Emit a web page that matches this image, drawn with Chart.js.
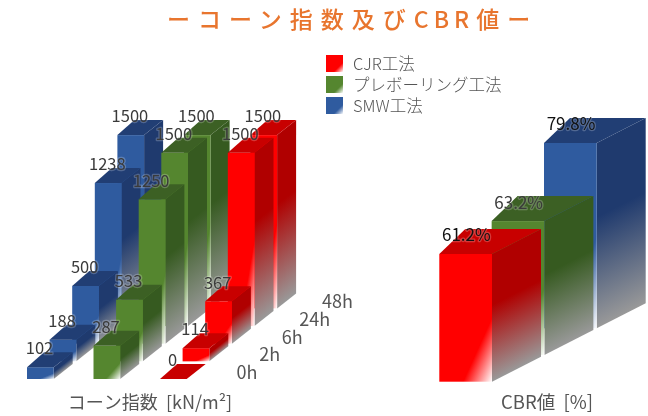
<!DOCTYPE html>
<html lang="ja">
<head>
<meta charset="utf-8">
<script src="https://cdn.jsdelivr.net/npm/chart.js@4"></script>
<style>
  html, body { margin: 0; padding: 0; background: #fff; }
  #page { position: relative; width: 648px; height: 416px; overflow: hidden; filter: blur(0.35px);
    font-family: "Noto Sans CJK JP", "Noto Sans", sans-serif; color: #555; }
  canvas { position: absolute; left: 0; top: 0; }
  #title { position: absolute; left: 167px; top: 1px; white-space: nowrap; font-size: 23px;
    line-height: 34px; letter-spacing: 8px; font-weight: 500; color: #e8752e; }
  #title span { letter-spacing: 5px; margin-right: 2px; }
  #legend { position: absolute; left: 326px; top: 55px; }
  #legend div { position: relative; height: 21px; line-height: 17px; font-size: 16.5px; font-weight: 300; padding-left: 27px; white-space: nowrap; }
  #legend i { position: absolute; left: 0; top: 0; width: 17px; height: 17px; }
</style>
</head>
<body>
<div id="page">
  <canvas id="cone" width="648" height="416"></canvas>
  <canvas id="cbr" width="648" height="416"></canvas>
  <div id="title">ーコーン指数及び<span>CBR</span>値ー</div>
  <div id="legend"></div>
</div>
<script>
const times = ["0h", "2h", "6h", "24h", "48h"];
const methods = ["SMW工法", "プレボーリング工法", "CJR工法"];
const smwCone = [102, 188, 500, 1238, 1500];
const preCone = [287, 533, 1250, 1500, 1500];
const cjrCone = [0, 114, 367, 1500, 1500];
const cbrMethods = ["CJR工法", "プレボーリング工法", "SMW工法"];
const cbrValues = [61.2, 63.2, 79.8];
const legendOrder = ["CJR工法", "プレボーリング工法", "SMW工法"];

const colors = {
  "CJR工法": { front: "#ff0000", side: "#b00000", top: "#c80000" },
  "プレボーリング工法": { front: "#55862f", side: "#365a20", top: "#3c6024" },
  "SMW工法": { front: "#2f5b9f", side: "#1f3a6e", top: "#213e74" },
};

// one box: front face fades to white in the lower right corner, side fades to grey
// dxTop is how far the back left corner of the top moves, the back edge is wider than the front
function drawBox(ctx, x, base, w, h, dx, dxTop, dy, c) {
  const top = base - h;
  if (h > 0) {
    // side
    ctx.save();
    ctx.transform(1, dy / dx, 0, 1, x + w, top);
    const sg = ctx.createLinearGradient(0, 0, 0, h);
    sg.addColorStop(0, c.side);
    sg.addColorStop(0.4, c.side);
    sg.addColorStop(1, "#999999");
    ctx.fillStyle = sg;
    ctx.fillRect(0, 0, dx, h);
    ctx.restore();

    // front
    const ax = x + 0.45 * w, ay = base;
    const bx = x + w, by = base - 0.5 * h;
    const cx = x + w, cy = base;
    const lx = bx - ax, ly = by - ay;
    const t = ((cx - ax) * lx + (cy - ay) * ly) / (lx * lx + ly * ly);
    const fg = ctx.createLinearGradient(ax + t * lx, ay + t * ly, cx, cy);
    fg.addColorStop(0, c.front);
    fg.addColorStop(1, "#ffffff");
    ctx.fillStyle = fg;
    ctx.fillRect(x, top, w, h);
  }
  // top
  ctx.fillStyle = c.top;
  ctx.beginPath();
  ctx.moveTo(x, top);
  ctx.lineTo(x + dxTop, top + dy);
  ctx.lineTo(x + w + dx, top + dy);
  ctx.lineTo(x + w, top);
  ctx.closePath();
  ctx.fill();
}

function valueLabel(ctx, text, x, y, size, color) {
  ctx.font = size + 'px "Noto Sans CJK JP", "Noto Sans", sans-serif';
  ctx.textAlign = "center";
  ctx.textBaseline = "middle";
  ctx.lineJoin = "round";
  ctx.lineWidth = 2.5;
  ctx.strokeStyle = "rgba(255,255,255,0.22)"; // soft halo, numbers sit over the dark tops
  ctx.strokeText(text, x, y);
  ctx.fillStyle = color;
  ctx.fillText(text, x, y);
}

const conePlugin = {
  id: "cone3d",
  afterDatasetsDraw(chart) {
    const { ctx, scales } = chart;
    const stepX = 22.6, stepY = -17.65, w = 26.7, dx = 19, dxTop = 17, dy = -15;
    const zero = scales.y.getPixelForValue(0);
    for (let t = times.length - 1; t >= 0; t--) {
      chart.data.datasets.forEach((ds, m) => {
        const x = scales.m.getPixelForValue(m) + t * stepX;
        const base = zero + t * stepY;
        const h = zero - scales.y.getPixelForValue(ds.data[t]);
        drawBox(ctx, x, base, w, h, dx, dxTop, dy, colors[ds.label]);
      });
    }
    // labels go on top of all boxes
    chart.data.datasets.forEach((ds, m) => {
      ds.data.forEach((v, t) => {
        const x = scales.m.getPixelForValue(m) + t * stepX;
        const y = scales.y.getPixelForValue(v) + t * stepY;
        valueLabel(ctx, String(v), x + 12.5, y - 19, 16.5, "#3a3a3a");
      });
    });
    const last = scales.m.getPixelForValue(methods.length - 1);
    times.forEach((label, t) => {
      valueLabel(ctx, label, last + 87 + t * stepX, zero - 7 + t * stepY, 18, "#555");
    });
    valueLabel(ctx, "コーン指数  [kN/m²]", 150, 402, 18, "#555");
  },
};

const cbrPlugin = {
  id: "cbr3d",
  afterDatasetsDraw(chart) {
    const { ctx, scales } = chart;
    const ds = chart.data.datasets[0];
    const stepY = -26.7, w = 52.7, dx = 49, dxTop = 26, dy = -25;
    const zero = scales.y.getPixelForValue(scales.y.min);
    for (let i = ds.data.length - 1; i >= 0; i--) {
      const x = scales.x.getPixelForValue(i);
      const h = zero - scales.y.getPixelForValue(ds.data[i]);
      drawBox(ctx, x, zero + i * stepY, w, h, dx, dxTop, dy, colors[cbrMethods[i]]);
    }
    ds.data.forEach((v, i) => {
      const x = scales.x.getPixelForValue(i);
      const y = scales.y.getPixelForValue(v) + i * stepY;
      valueLabel(ctx, v.toFixed(1) + "%", x + 27, y - 19, 17, i === 1 ? "#3a3a3a" : "#111");
    });
    valueLabel(ctx, "CBR値  [%]", 547, 402, 18.5, "#555");
  },
};

new Chart(document.getElementById("cone"), {
  type: "bar",
  data: {
    labels: times,
    datasets: [
      { label: methods[0], data: smwCone, backgroundColor: "transparent" },
      { label: methods[1], data: preCone, backgroundColor: "transparent" },
      { label: methods[2], data: cjrCone, backgroundColor: "transparent" },
    ],
  },
  options: {
    responsive: false,
    animation: false,
    layout: { padding: { left: 27, right: 648 - 160, top: 205.7, bottom: 37 } },
    plugins: { legend: { display: false }, tooltip: { enabled: false } },
    scales: {
      x: { display: false },
      m: { type: "category", axis: "x", labels: methods, display: false, offset: false },
      y: { display: false, min: 0, max: 1500 },
    },
  },
  plugins: [conePlugin],
});

new Chart(document.getElementById("cbr"), {
  type: "bar",
  data: {
    labels: cbrMethods,
    datasets: [{ label: "CBR値", data: cbrValues, backgroundColor: "transparent" }],
  },
  options: {
    responsive: false,
    animation: false,
    layout: { padding: { left: 439.3, right: 648 - 544, top: 195.7, bottom: 34.3 } },
    plugins: { legend: { display: false }, tooltip: { enabled: false } },
    scales: {
      x: { display: false, offset: false },
      y: { display: false, min: 20, max: 80 },
    },
  },
  plugins: [cbrPlugin],
});

// legend swatches use the same fade as the front faces
document.getElementById("legend").innerHTML = legendOrder.map((name) =>
  `<div><i style="background:linear-gradient(135deg, ${colors[name].front} 72%, #fff 100%)"></i>${name}</div>`
).join("");
</script>
</body>
</html>
